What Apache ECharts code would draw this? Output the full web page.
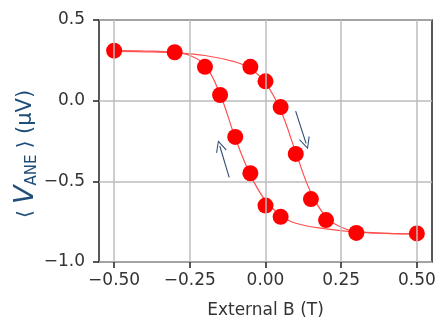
<!DOCTYPE html>
<html><head><meta charset="utf-8">
<script src="https://cdn.jsdelivr.net/npm/echarts@6/dist/echarts.min.js"></script>
<style>html,body{margin:0;padding:0;background:#fff}#c{width:440px;height:324px}</style>
</head><body><div id="c"></div>
<script>
// Measured points, sweep toward +B (right branch)
const sweepUpB = [-0.5, -0.3, -0.05, 0.0, 0.05, 0.10, 0.15, 0.20, 0.30, 0.50];
const sweepUpV = [0.31, 0.30, 0.21, 0.12, -0.04, -0.33, -0.61, -0.74, -0.82, -0.823];
// Measured points, sweep toward -B (left branch)
const sweepDownB = [-0.20, -0.15, -0.10, -0.05, 0.0, 0.05];
const sweepDownV = [0.21, 0.035, -0.225, -0.45, -0.65, -0.72];
// Fitted curves
const fitRightB = [-0.5, -0.4, -0.3, -0.2, -0.1, -0.05, 0.0, 0.05, 0.10, 0.15, 0.20, 0.25, 0.30, 0.40, 0.50];
const fitRightV = [0.305, 0.303, 0.297, 0.28, 0.24, 0.20, 0.11, -0.06, -0.32, -0.57, -0.72, -0.785, -0.81, -0.822, -0.826];
const fitLeftB = [-0.5, -0.4, -0.3, -0.25, -0.2, -0.15, -0.10, -0.05, 0.0, 0.05, 0.10, 0.20, 0.30, 0.40, 0.50];
const fitLeftV = [0.31, 0.308, 0.30, 0.28, 0.22, 0.04, -0.23, -0.46, -0.62, -0.71, -0.76, -0.795, -0.815, -0.822, -0.825];
// Arrow annotations (data coords)
const arrowRight = [[0.0996, -0.065], [0.134, -0.265]];
const arrowLeft = [[-0.120, -0.475], [-0.151, -0.281]];
// Ticks
const xTicks = [-0.5, -0.25, 0, 0.25, 0.5];
const yTicks = [-1.0, -0.5, 0.0, 0.5];

const zip = (a, b) => a.map((v, i) => [v, b[i]]);
const minus = s => s.replace('-', '\u2212');
const font = 'DejaVu Sans';
const blue = '#1f4e79';
const ch = echarts.init(document.getElementById('c'));
const chevron = 'path://M0,10 L5,0 L10,10 L9.2,10.6 L5,2 L0.8,10.6 Z';
ch.setOption({
  animation: false,
  grid: {left: 99, right: 8, top: 20, bottom: 61, show: true, borderColor: '#222', borderWidth: 1.5},
  xAxis: {
    type: 'value', min: -0.55, max: 0.55,
    name: 'External B (T)', nameLocation: 'middle', nameGap: 40,
    nameTextStyle: {fontFamily: font, fontSize: 17, color: '#333'},
    axisLine: {show: false, onZero: false},
    axisTick: {show: true, length: 6, customValues: xTicks, lineStyle: {color: '#222', width: 1.5}},
    axisLabel: {customValues: xTicks, fontFamily: font, fontSize: 17, color: '#333', margin: 10,
      formatter: v => minus(v.toFixed(2))},
    splitLine: {show: false}
  },
  yAxis: {
    type: 'value', min: -1, max: 0.5, interval: 0.5,
    axisLine: {show: false, onZero: false},
    axisTick: {show: true, length: 6, lineStyle: {color: '#222', width: 1.5}},
    axisLabel: {fontFamily: font, fontSize: 17, color: '#333', margin: 14,
      formatter: v => minus(v.toFixed(1))},
    splitLine: {show: true, lineStyle: {color: '#bdbdbd', width: 1.5}}
  },
  graphic: [{
    type: 'text', x: 26, y: 154, rotation: Math.PI / 2,
    style: {
      text: '{b|\u27E8} {v|V}{s|ANE} {b|\u27E9} {p|(\u03BCV)}',
      fill: blue, font: '20px "DejaVu Sans"', align: 'center', verticalAlign: 'middle',
      rich: {
        b: {fontFamily: font, fontSize: 20, fill: blue},
        v: {fontFamily: font, fontSize: 27, fontStyle: 'italic', fill: blue},
        s: {fontFamily: font, fontSize: 15, fill: blue, padding: [13, 0, 0, 0]},
        p: {fontFamily: font, fontSize: 21, fill: blue}
      }
    }
  }],
  series: [
    {type: 'line', data: xTicks.map(v => [v, 0]), symbol: 'none', lineStyle: {opacity: 0}, silent: true,
      markLine: {silent: true, symbol: 'none', label: {show: false},
        lineStyle: {color: '#bdbdbd', width: 1.5, type: 'solid'},
        data: xTicks.map(v => ({xAxis: v}))}},
    {type: 'line', data: zip(fitRightB, fitRightV), smooth: 0.4, symbol: 'none',
      lineStyle: {color: '#ff5050', width: 1.2}, z: 3},
    {type: 'line', data: zip(fitLeftB, fitLeftV), smooth: 0.4, symbol: 'none',
      lineStyle: {color: '#ff5050', width: 1.2}, z: 3},
    {type: 'scatter', data: zip(sweepUpB, sweepUpV), symbolSize: 16, itemStyle: {color: '#ff0000', opacity: 1}, z: 4},
    {type: 'scatter', data: zip(sweepDownB, sweepDownV), symbolSize: 16, itemStyle: {color: '#ff0000', opacity: 1}, z: 4,
      markLine: {silent: true, symbol: ['none', chevron], symbolSize: [11, 12], label: {show: false},
        lineStyle: {color: '#2e4d73', width: 1.1, type: 'solid'},
        itemStyle: {color: '#2e4d73'},
        data: [
          [{coord: arrowRight[0]}, {coord: arrowRight[1]}],
          [{coord: arrowLeft[0]}, {coord: arrowLeft[1]}]
        ]}}
  ]
});
</script></body></html>
